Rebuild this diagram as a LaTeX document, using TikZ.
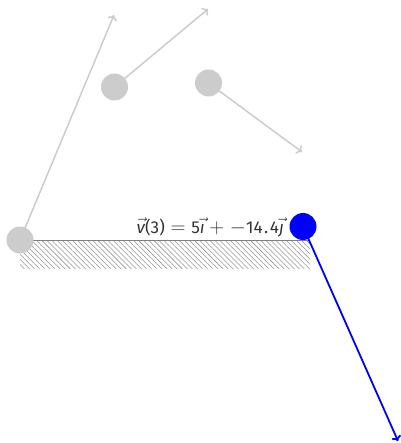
\documentclass[tikz,border=0pt]{standalone}
\usepackage{amsmath}
\usepackage{fontspec}
\setmainfont{Fira Sans}
\usetikzlibrary{patterns.meta,arrows.meta}
\definecolor{ghost}{HTML}{CCCCCC}
\definecolor{ink}{HTML}{333333}
\tikzset{
  ball/.style={circle,fill=#1,minimum size=27pt,inner sep=0pt},
  vel/.style={draw=#1,line width=1.5pt,-{To[length=5pt,width=10pt]}},
}
\newcommand\tx[1]{\text{\fontsize{17.2}{20}\selectfont #1}}
\newcommand\vlab[1]{\vec{\tx{\itshape #1}}}
\begin{document}
\begin{tikzpicture}[x=1pt,y=-1pt]
\useasboundingbox (0,0) rectangle (400,443);
% ground
\fill[pattern={Lines[angle=-45,distance=3.6pt,line width=0.55pt]},pattern color=gray!85] (20,241) rectangle (310,268);
\draw[gray,line width=1pt] (19,240) -- (310,240);
% balls
\node[ball=ghost] (b0) at (20,240) {};
\node[ball=ghost] (b1) at (114.5,87) {};
\node[ball=ghost] (b2) at (208.5,83) {};
\coordinate (e0) at (114,15);
\coordinate (e1) at (208,9);
\coordinate (e2) at (302,152);
\coordinate (e3) at (398,441);
\draw[vel=ghost] (b0.center) -- (e0);
\draw[vel=ghost] (b1.center) -- (e1);
\draw[vel=ghost] (b2.center) -- (e2);
\draw[vel=blue,line width=1.8pt] (303,226.5) coordinate (c3) -- (e3);
\node[ball=blue] (b3) at (c3) {};
\node[anchor=base east,font=\fontsize{19.1}{22}\selectfont,text=ink,inner sep=0pt] (lbl) at (284,233)
  {$\vlab{v}\tx{(3)}=\tx{5}\vlab{ı}+\mskip1mu-\tx{14\kern1.5pt.\kern1.5pt4}\vlab{ȷ}$};
\end{tikzpicture}
\end{document}
